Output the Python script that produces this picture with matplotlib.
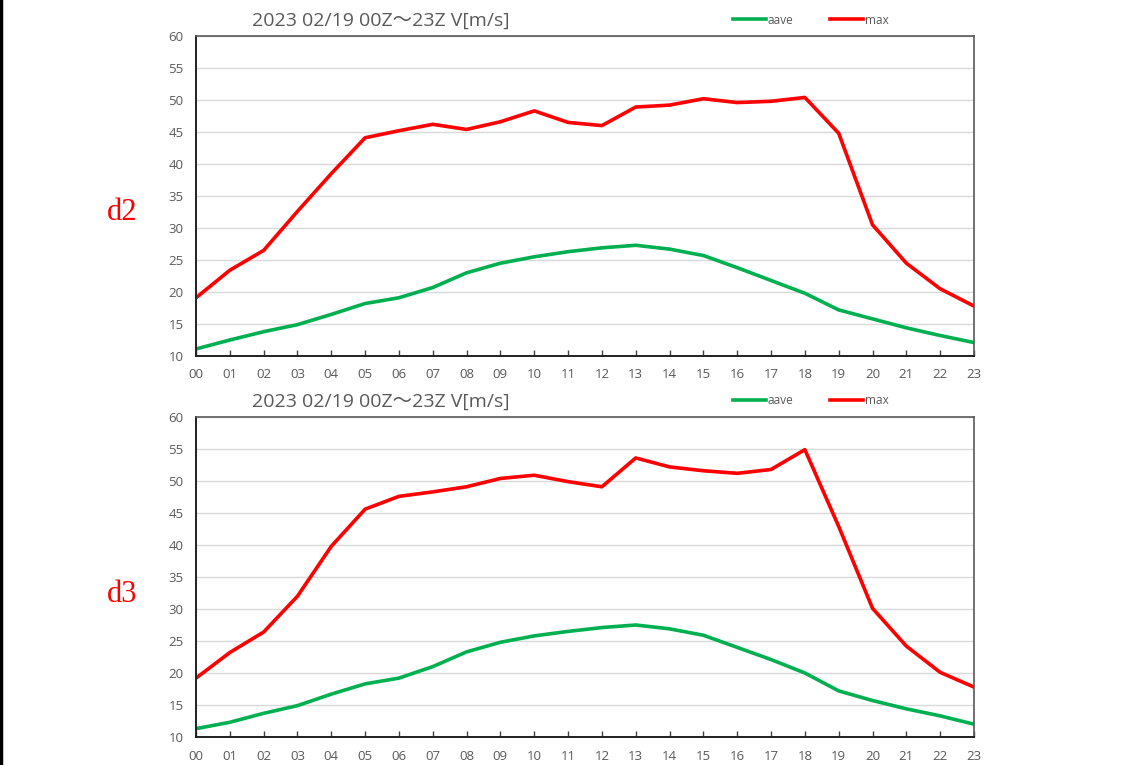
import matplotlib
matplotlib.use('Agg')
import matplotlib.pyplot as plt
from matplotlib.lines import Line2D

# Данные (чтение с картинки)
hours = ['00', '01', '02', '03', '04', '05', '06', '07', '08', '09', '10', '11',
         '12', '13', '14', '15', '16', '17', '18', '19', '20', '21', '22', '23']

d2_aave = [11.1, 12.5, 13.8, 14.9, 16.5, 18.2, 19.1, 20.7, 23.0, 24.5, 25.5, 26.3,
           26.9, 27.3, 26.7, 25.7, 23.8, 21.8, 19.8, 17.2, 15.8, 14.4, 13.2, 12.1]
d2_max = [19.1, 23.4, 26.5, 32.6, 38.5, 44.1, 45.2, 46.2, 45.4, 46.6, 48.3, 46.5,
          46.0, 48.9, 49.2, 50.2, 49.6, 49.8, 50.4, 44.8, 30.5, 24.5, 20.5, 17.8]

d3_aave = [11.3, 12.3, 13.7, 14.9, 16.7, 18.3, 19.2, 21.0, 23.3, 24.8, 25.8, 26.5,
           27.1, 27.5, 26.9, 25.9, 24.0, 22.1, 20.0, 17.2, 15.7, 14.4, 13.3, 12.0]
d3_max = [19.2, 23.2, 26.4, 32.0, 39.8, 45.6, 47.6, 48.3, 49.1, 50.4, 50.9, 49.9,
          49.1, 53.6, 52.2, 51.6, 51.2, 51.8, 54.9, 42.9, 30.1, 24.2, 20.1, 17.8]

panels = [('d2', d2_aave, d2_max), ('d3', d3_aave, d3_max)]

title = '2023 02/19 00Z～23Z V[m/s]'
gray = '#595959'
green = '#00b050'
red = '#ff0000'

W, H = 1132, 765
fig = plt.figure(figsize=(W / 100, H / 100), dpi=100)
plt.rcParams['font.family'] = ['Open Sans', 'Noto Sans CJK JP', 'DejaVu Sans']

# левая чёрная рамка
fig.add_artist(Line2D([0.001, 0.001], [0, 1], color='black', lw=2.5,
                      transform=fig.transFigure))

axes_top = [36, 417]   # верх области графика в пикселях
x = list(range(len(hours)))

for (name, aave, vmax), top in zip(panels, axes_top):
    left, right, bottom = 196, 974, top + 320
    ax = fig.add_axes([left / W, 1 - bottom / H, (right - left) / W, 320 / H])

    ax.plot(x, aave, color=green, lw=2.6, label='aave', solid_joinstyle='round')
    ax.plot(x, vmax, color=red, lw=2.6, label='max', solid_joinstyle='round')

    ax.set_xlim(0, 23)
    ax.set_ylim(10, 60)
    ax.set_xticks(x)
    ax.set_xticklabels(hours)
    ax.set_yticks(range(10, 61, 5))
    ax.grid(axis='y', color='#d9d9d9', lw=1)
    ax.set_axisbelow(True)

    ax.tick_params(axis='x', direction='in', length=4, width=1, color='#404040',
                   labelsize=9.5, labelcolor=gray, pad=9)
    ax.tick_params(axis='y', length=0, labelsize=9.5, labelcolor=gray, pad=9)

    for side in ['top', 'right']:
        ax.spines[side].set_color('#595959')
        ax.spines[side].set_linewidth(1.2)
    for side in ['left', 'bottom']:
        ax.spines[side].set_color('#202020')
        ax.spines[side].set_linewidth(1.4)

    ax.text(0.237, 1.047, title, transform=ax.transAxes, ha='center', va='center',
            fontsize=14, color=gray)

    leg = ax.legend(loc='center', bbox_to_anchor=(0.79, 1.05), ncol=2, frameon=False,
                    fontsize=8.5, handlelength=2.8, handletextpad=0.15, columnspacing=3.1,
                    borderpad=0)
    for t in leg.get_texts():
        t.set_color(gray)

    # подпись панели
    fig.text(122 / W, 1 - (top + 177) / H, name, ha='center', va='center',
             fontsize=22, color=red, family=['Liberation Serif', 'DejaVu Serif'])

fig.savefig('out.png', dpi=100, facecolor='white')
